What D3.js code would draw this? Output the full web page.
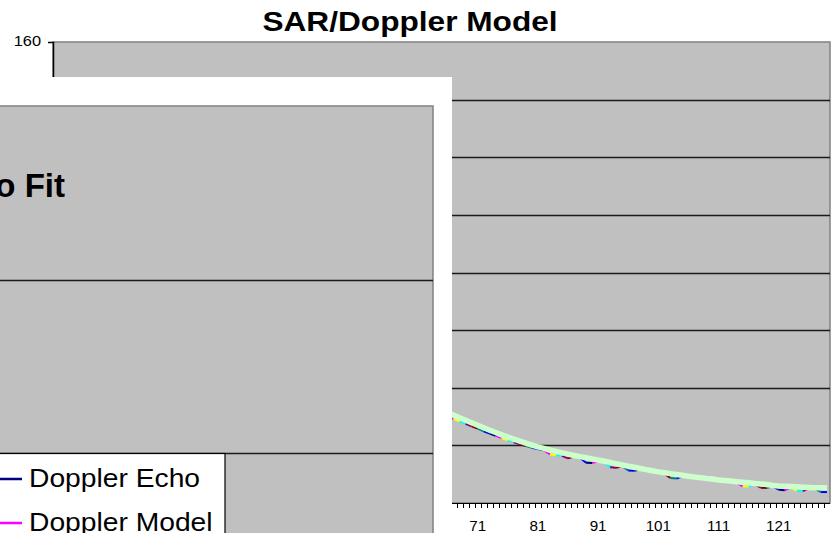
<!DOCTYPE html>
<html>
<head>
<meta charset="utf-8">
<script src="https://cdn.jsdelivr.net/npm/d3@7"></script>
<style>
  html, body { margin: 0; padding: 0; background: #fff; overflow: hidden; }
  svg { display: block; font-family: "Liberation Sans", Arial, sans-serif; }
</style>
</head>
<body>
<div id="chart"></div>
<script>
(function () {
  'use strict';

  // back chart: SAR/Doppler Model
  var categories = d3.range(1, 130);
  var xTickLabels = [1, 11, 21, 31, 41, 51, 61, 71, 81, 91, 101, 111, 121];
  var yTicks = [0, 20, 40, 60, 80, 100, 120, 140, 160];

  var dopplerModel = [
    125.5, 125.8, 126.0, 126.1, 126.1, 126.0, 125.8, 125.5, 125.1, 124.6,
    124.0, 123.3, 122.5, 121.6, 120.6, 119.5, 118.3, 117.0, 115.6, 114.1,
    112.5, 110.8, 109.0, 107.1, 105.1, 103.0, 100.8, 98.6, 96.4, 94.2,
    91.9, 89.6, 87.3, 85.0, 82.7, 80.4, 78.1, 75.8, 73.5, 71.3,
    69.1, 67.0, 64.9, 62.9, 60.9, 59.0, 57.1, 55.3, 53.5, 51.8,
    50.1, 48.5, 46.9, 45.4, 43.9, 42.5, 41.1, 39.8, 38.5, 37.3,
    36.5, 35.5, 34.5, 33.5, 32.5, 31.5, 30.5, 29.6, 28.7, 27.85,
    27.0, 26.1, 25.25, 24.45, 23.65, 22.9, 22.15, 21.45, 20.75, 20.1,
    19.5, 18.95, 18.4, 17.9, 17.4, 16.95, 16.5, 16.1, 15.7, 15.3,
    14.9, 14.5, 14.1, 13.6, 13.2, 12.8, 12.4, 12.0, 11.6, 11.2,
    10.8, 10.5, 10.2, 9.9, 9.6, 9.3, 9.0, 8.8, 8.5, 8.3,
    8.0, 7.8, 7.6, 7.4, 7.2, 7.0, 6.8, 6.6, 6.4, 6.1,
    5.9, 5.8, 5.7, 5.6, 5.5, 5.4, 5.3, 5.3, 5.2
  ];

  var dopplerEcho = [
    125.0, 125.2, 125.5, 125.6, 125.5, 125.5, 125.2, 125.0, 124.6, 124.0,
    123.5, 122.8, 121.9, 121.1, 120.0, 119.0, 117.7, 116.5, 115.0, 113.6,
    111.9, 110.3, 108.4, 106.6, 104.5, 102.5, 100.2, 98.1, 95.8, 93.7,
    91.3, 89.1, 86.7, 84.5, 82.1, 79.9, 77.5, 75.3, 72.9, 70.8,
    68.5, 66.5, 64.3, 62.4, 60.3, 58.5, 56.5, 54.8, 52.9, 51.3,
    49.5, 48.0, 46.3, 44.9, 43.3, 42.0, 40.5, 39.3, 37.9, 36.8,
    35.3, 34.3, 33.3, 32.3, 31.3, 30.2, 29.2, 28.3, 27.5, 26.6,
    25.8, 24.9, 24.1, 23.3, 22.5, 21.8, 21.1, 20.4, 19.8, 19.2,
    18.7, 18.3, 16.9, 16.6, 16.4, 15.5, 16.1, 15.7, 14.0, 13.9,
    14.5, 14.1, 12.4, 12.2, 12.8, 11.3, 11.2, 11.7, 11.3, 10.9,
    10.5, 10.2, 8.7, 8.5, 9.3, 9.0, 8.7, 8.5, 8.2, 8.0,
    7.7, 7.5, 7.3, 7.1, 5.8, 5.7, 6.5, 5.3, 5.2, 5.8,
    4.6, 4.4, 5.4, 4.2, 4.1, 5.1, 5.0, 3.8, 3.8
  ];

  // excel "vary colours by point" palette
  var pointColors = ['#000080', '#ff00ff', '#ffff00', '#00ffff', '#800080', '#800000', '#008080', '#0000ff'];

  // front chart: Doppler Echo Fit
  var frontTitle = 'Doppler Echo Fit';
  var legendNames = ['Doppler Echo', 'Doppler Model'];
  var legendColors = ['#000080', '#ff00ff'];

  var width = 833,
    height = 533,
    stretch = 1.13,
    panelRight = 452;

  var svg = d3.select('#chart').append('svg')
    .attr('width', width)
    .attr('height', height);

  drawBackChart();
  drawFrontChart();

  function drawBackChart() {
    var plot = { left: 53, right: 830, top: 42, bottom: 503 };

    var x = d3.scaleBand()
      .domain(categories)
      .range([plot.left, plot.right])
      .paddingInner(0)
      .paddingOuter(0);

    var y = d3.scaleLinear()
      .domain([0, 160])
      .range([plot.bottom, plot.top]);

    var cx = function (c) { return x(c) + x.bandwidth() / 2; };

    svg.append('text')
      .attr('transform', 'translate(410,31) scale(' + stretch + ',1)')
      .attr('text-anchor', 'middle')
      .attr('font-weight', 'bold')
      .attr('font-size', 28)
      .attr('fill', '#000')
      .text('SAR/Doppler Model');

    svg.append('rect')
      .attr('x', plot.left)
      .attr('y', plot.top)
      .attr('width', plot.right - plot.left)
      .attr('height', plot.bottom - plot.top)
      .attr('fill', '#c0c0c0')
      .attr('stroke', '#808080')
      .attr('stroke-width', 1.5);

    svg.append('g')
      .selectAll('line')
      .data(yTicks.filter(function (t) { return t > 0 && t < 160; }))
      .enter()
      .append('line')
      .attr('x1', plot.left)
      .attr('x2', plot.right)
      .attr('y1', function (d) { return Math.round(y(d)) + 0.5; })
      .attr('y2', function (d) { return Math.round(y(d)) + 0.5; })
      .attr('stroke', '#1a1a1a')
      .attr('stroke-width', 1.4);

    var clip = svg.append('clipPath').attr('id', 'backClip');
    clip.append('rect')
      .attr('x', plot.left)
      .attr('y', plot.top)
      .attr('width', plot.right - plot.left)
      .attr('height', plot.bottom - plot.top);

    var lines = svg.append('g').attr('clip-path', 'url(#backClip)');

    // echo, one colour per segment
    var segs = d3.range(categories.length - 1);
    lines.selectAll('line.echo')
      .data(segs)
      .enter()
      .append('line')
      .attr('class', 'echo')
      .attr('x1', function (i) { return cx(categories[i]); })
      .attr('y1', function (i) { return y(dopplerEcho[i]); })
      .attr('x2', function (i) { return cx(categories[i + 1]); })
      .attr('y2', function (i) { return y(dopplerEcho[i + 1]); })
      .attr('stroke', function (i) { return pointColors[i % pointColors.length]; })
      .attr('stroke-width', 2);

    var modelLine = d3.line()
      .x(function (d, i) { return cx(categories[i]); })
      .y(function (d) { return y(d); });

    lines.append('path')
      .datum(dopplerModel)
      .attr('d', modelLine)
      .attr('fill', 'none')
      .attr('stroke', '#ccffcc')
      .attr('stroke-width', 5.5)
      .attr('stroke-linejoin', 'round');

    // x axis: minor ticks between categories, labels every 10
    var xAxis = svg.append('g');
    xAxis.append('line')
      .attr('x1', plot.left)
      .attr('x2', plot.right)
      .attr('y1', plot.bottom + 0.5)
      .attr('y2', plot.bottom + 0.5)
      .attr('stroke', '#000');
    xAxis.selectAll('line.tick')
      .data(categories)
      .enter()
      .append('line')
      .attr('class', 'tick')
      .attr('x1', function (c) { return Math.round(x(c)) + 0.5; })
      .attr('x2', function (c) { return Math.round(x(c)) + 0.5; })
      .attr('y1', plot.bottom)
      .attr('y2', plot.bottom + 5)
      .attr('stroke', '#000');
    // labels left of the front panel are covered by it anyway
    xAxis.selectAll('text')
      .data(xTickLabels.filter(function (c) { return cx(c) > panelRight; }))
      .enter()
      .append('text')
      .attr('transform', function (c) { return 'translate(' + cx(c) + ',531) scale(1.05,1)'; })
      .attr('text-anchor', 'middle')
      .attr('font-size', 14.5)
      .attr('fill', '#000')
      .text(function (c) { return c; });

    var yAxis = d3.axisLeft(y)
      .tickValues(yTicks.filter(function (t) { return y(t) < 77; }))
      .tickSize(5)
      .tickPadding(8);

    var gy = svg.append('g')
      .attr('transform', 'translate(' + plot.left + ',0)')
      .call(yAxis);
    gy.select('.domain').attr('stroke', '#000').attr('stroke-width', 1.5);
    gy.selectAll('.tick text')
      .attr('font-size', 14.5)
      .attr('font-family', '"Liberation Sans", Arial, sans-serif')
      .attr('fill', '#000')
      .attr('transform', 'scale(' + stretch + ',1)')
      .attr('x', -12 / stretch)
      .attr('dy', '0.25em');
  }

  function drawFrontChart() {
    var panel = { left: 0, right: panelRight, top: 77, bottom: 540 };
    var plot = { left: -2, right: 433, top: 106, bottom: 627 };

    svg.append('rect')
      .attr('x', panel.left)
      .attr('y', panel.top)
      .attr('width', panel.right - panel.left)
      .attr('height', panel.bottom - panel.top)
      .attr('fill', '#fff');

    svg.append('rect')
      .attr('x', plot.left)
      .attr('y', plot.top)
      .attr('width', plot.right - plot.left)
      .attr('height', plot.bottom - plot.top)
      .attr('fill', '#c0c0c0')
      .attr('stroke', '#808080')
      .attr('stroke-width', 1.5);

    // front value axis, only two gridlines fall in view
    var fy = d3.scaleLinear()
      .domain([0, 3])
      .range([plot.bottom, plot.top]);

    svg.append('g')
      .selectAll('line')
      .data([1, 2])
      .enter()
      .append('line')
      .attr('x1', plot.left)
      .attr('x2', plot.right)
      .attr('y1', function (d) { return Math.round(fy(d)) + 0.5; })
      .attr('y2', function (d) { return Math.round(fy(d)) + 0.5; })
      .attr('stroke', '#1a1a1a')
      .attr('stroke-width', 1.6);

    svg.append('text')
      .attr('x', 65)
      .attr('y', 197)
      .attr('text-anchor', 'end')
      .attr('font-weight', 'bold')
      .attr('font-size', 33)
      .attr('fill', '#000')
      .text(frontTitle);

    var legend = svg.append('g');
    legend.append('rect')
      .attr('x', -2)
      .attr('y', 453.5)
      .attr('width', 227)
      .attr('height', 100)
      .attr('fill', '#fff')
      .attr('stroke', '#000')
      .attr('stroke-width', 1.2);

    var items = legend.selectAll('g.item')
      .data(legendNames)
      .enter()
      .append('g')
      .attr('class', 'item')
      .attr('transform', function (d, i) { return 'translate(0,' + (479 + i * 44) + ')'; });

    items.append('line')
      .attr('x1', 0)
      .attr('x2', 22)
      .attr('y1', 0)
      .attr('y2', 0)
      .attr('stroke', function (d, i) { return legendColors[i]; })
      .attr('stroke-width', 2.5);

    items.append('text')
      .attr('transform', 'translate(29,8) scale(' + stretch + ',1)')
      .attr('font-size', 25)
      .attr('fill', '#000')
      .text(function (d) { return d; });
  }
})();
</script>
</body>
</html>
